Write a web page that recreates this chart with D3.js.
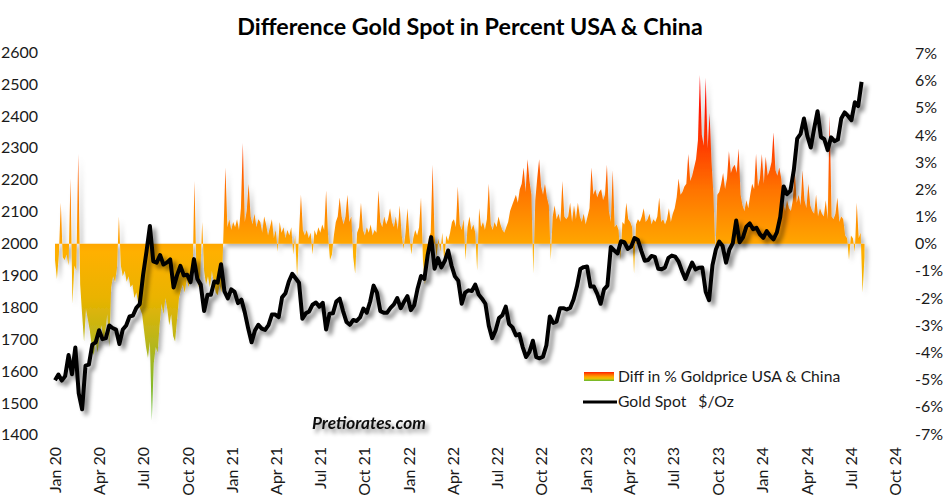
<!DOCTYPE html>
<html><head><meta charset="utf-8">
<script src="https://cdn.jsdelivr.net/npm/d3@7/dist/d3.min.js"></script>
<style>
html,body{margin:0;padding:0;background:#fff;}
svg{display:block;font-family:Lato,"Open Sans",sans-serif;}
</style></head><body>
<svg id="chart" width="945" height="497"></svg>
<script>
// ---------------- DATA ----------------
const chartTitle = "Difference Gold Spot in Percent USA & China";
const legendLabels = ["Diff in % Goldprice USA & China", "Gold Spot   $/Oz"];
const watermarkText = "Pretiorates.com";

const leftTicks = [2600,2500,2400,2300,2200,2100,2000,1900,1800,1700,1600,1500,1400];
const rightTicks = [7,6,5,4,3,2,1,0,-1,-2,-3,-4,-5,-6,-7];
const xTickLabels = ["Jan 20","Apr 20","Jul 20","Oct 20","Jan 21","Apr 21","Jul 21","Oct 21",
  "Jan 22","Apr 22","Jul 22","Oct 22","Jan 23","Apr 23","Jul 23","Oct 23","Jan 24","Apr 24","Jul 24","Oct 24"];
const firstTickDate = "2020-01-24";

// Gold spot $/oz, weekly (Fridays) starting 2020-01-24
const goldStart = "2020-01-24";
const gold2020 = [1571,1589,1570,1584,1650,1590,1674,1530,1480,1617,1620,1683,1690,1728,1700,1703,1743,1735,1730,1685,
  1730,1743,1771,1774,1798,1810,1902,1975,2055,1944,1940,1964,1934,1940,1950,1862,1900,1930,1900,1902,
  1879,1951,1889,1871,1788,1839,1839,1881,1877,1935];
const gold2021 = [1850,1828,1856,1848,1813,1824,1784,1734,1690,1727,1745,1733,1729,1744,1777,1777,1769,1831,1844,1881,
  1905,1891,1877,1764,1781,1787,1808,1815,1802,1814,1730,1780,1781,1818,1827,1788,1754,1745,1760,1757,
  1768,1796,1783,1818,1868,1846,1788,1783,1783,1798,1809,1829];
const gold2022 = [1797,1817,1835,1791,1807,1859,1898,1889,1966,2020,1921,1954,1925,1945,1978,1931,1897,1883,1811,1846,
  1853,1851,1871,1840,1827,1811,1742,1703,1727,1766,1775,1802,1747,1737,1712,1716,1675,1644,1660,1695,
  1644,1640,1645,1681,1771,1751,1755,1797,1797,1793,1798,1824];
const gold2023 = [1865,1920,1926,1928,1865,1865,1842,1811,1856,1868,1989,1978,1969,2007,2004,1983,1990,2017,2011,1977,
  1946,1948,1961,1958,1921,1919,1925,1955,1962,1959,1943,1914,1889,1915,1940,1919,1924,1925,1849,1822,
  1932,1981,2006,1992,1940,1981,2001,2072,2004,2019,2053,2063];
const gold2024 = [2045,2049,2029,2018,2039,2024,2013,2035,2083,2179,2155,2165,2230,2329,2344,2392,2337,2301,2360,2415,
  2334,2327,2293,2333,2321,2326,2392,2411,2400,2387,2443,2431,2507];

// Difference USA vs China gold price in %, one reading every 4 days starting 2020-01-24
const diffStart = "2020-01-24";
const diffStepDays = 4;
const diffValues = [
 -0.6,-1.3,-0.4,1.5,-0.5,-0.6,-0.4,-0.8,2.4,-2.2,
 -0.8,-1.0,3.3,-1.5,-2.6,-3.6,-2.4,-2.8,-3.2,-3.8,
 -4.1,-3.6,-4.0,-3.4,-3.0,-3.6,-3.2,-2.6,-3.8,-1.6,
 -1.2,-1.4,-0.9,1.0,-0.8,-1.2,-1.0,-1.4,-1.2,-1.6,
 -1.5,-2.0,-1.8,-2.2,-2.4,-2.6,-3.2,-3.8,-4.2,-3.6,
 -6.5,-4.4,-3.8,-4.0,-3.0,-2.2,-2.6,-2.0,-2.4,-3.0,
 -2.6,-3.4,-3.6,-2.8,-2.0,-1.7,-1.5,-1.8,-1.3,-1.6,
 -1.2,-1.4,2.3,-1.0,-1.6,-1.2,0.8,-1.0,-1.5,-1.2,
 -1.6,-1.0,-1.4,-1.8,-1.9,-1.5,-1.8,0.4,2.8,0.6,
 0.9,0.5,0.8,0.6,0.9,0.5,1.3,3.7,0.8,1.2,
 2.2,1.0,0.7,1.1,0.6,0.9,0.8,0.4,1.0,0.7,
 0.3,0.6,0.9,0.2,0.5,-0.3,0.8,0.4,0.6,0.2,
 0.5,0.3,0.6,-0.4,0.3,-1.2,0.4,1.8,0.5,0.3,
 0.5,0.2,0.4,-0.4,0.5,0.3,0.6,0.4,0.7,0.5,
 1.95,0.3,-0.6,-0.4,0.3,0.8,1.0,1.7,1.0,0.7,
 1.0,1.8,0.8,1.0,-0.5,-1.1,0.4,0.6,1.5,0.5,
 0.3,0.6,0.4,0.7,0.3,0.5,0.4,1.95,0.8,0.6,
 1.0,0.7,0.9,1.3,0.8,0.6,1.0,0.5,1.4,0.3,
 -0.2,0.4,1.3,0.3,-0.4,0.2,0.5,0.3,0.6,1.7,
 -0.6,-1.5,-0.9,0.2,0.4,2.9,0.3,-0.5,0.2,-0.3,
 0.4,-0.7,0.3,0.1,0.4,0.8,0.9,0.6,2.1,0.7,
 0.5,0.9,-0.6,0.6,1.0,0.5,0.7,0.4,-1.0,1.3,
 0.6,0.8,0.5,0.9,2.2,0.7,0.5,0.8,0.6,1.0,
 0.7,0.5,0.4,0.6,0.8,1.2,1.4,1.6,1.8,1.5,
 2.0,2.2,2.8,1.9,3.1,2.3,1.8,-1.1,1.6,2.4,
 3.1,2.1,1.8,2.2,1.7,1.4,-0.6,1.0,1.4,0.9,
 1.1,0.8,2.3,1.0,0.9,1.0,1.5,0.8,1.4,0.9,
 1.5,1.0,0.8,1.1,0.7,1.0,1.3,2.8,1.8,2.0,
 1.7,1.9,2.0,1.6,1.8,2.9,1.2,0.8,2.7,0.6,
 0.7,0.5,-0.6,0.8,0.7,1.5,0.9,0.8,0.6,-1.1,
 0.7,0.9,0.8,1.0,1.3,0.8,0.9,1.1,0.7,0.9,
 0.8,1.0,1.7,0.8,0.9,0.7,0.9,1.3,0.8,1.1,
 1.3,1.7,2.4,1.8,1.9,2.1,2.2,3.3,2.3,2.5,
 2.8,3.1,3.8,6.2,4.0,3.6,6.1,3.5,4.8,3.0,
 1.8,-0.4,1.8,1.9,2.2,2.6,2.0,2.4,3.4,2.6,
 2.8,2.9,2.6,3.5,1.8,1.4,1.2,1.6,1.3,1.8,
 2.2,2.0,3.3,2.1,2.4,3.3,2.2,3.2,2.5,2.7,
 3.0,4.1,2.7,2.5,2.8,2.4,1.5,1.2,1.6,1.3,
 1.2,1.6,2.7,1.5,1.8,1.4,2.7,1.6,1.3,2.2,
 1.4,1.2,1.1,1.8,1.0,1.3,1.1,1.0,1.6,0.9,
 4.7,1.0,0.9,1.1,1.7,0.8,1.0,0.9,0.3,0.2,
 -0.6,0.3,0.2,-0.3,1.5,0.2,0.4,-1.8,-0.5
];

// ---------------- CHART ----------------
const parse = d3.utcParse("%Y-%m-%d");
const goldValues = [].concat(gold2020, gold2021, gold2022, gold2023, gold2024);
const gold = goldValues.map((v, i) => ({date: d3.utcDay.offset(parse(goldStart), 7 * i), v}));
const diff = diffValues.map((v, i) => ({date: d3.utcDay.offset(parse(diffStart), diffStepDays * i), v}));
const tickDates = xTickLabels.map((l, i) => d3.utcMonth.offset(parse(firstTickDate), 3 * i));

const svg = d3.select("#chart");
const textColor = "#1a1a1a";

const x = d3.scaleUtc().domain([tickDates[0], tickDates[tickDates.length - 1]]).range([55, 895]);
const yL = d3.scaleLinear().domain([1400, 2600]).range([434.8, 52.2]);
const yR = d3.scaleLinear().domain([-7, 7]).range([434, 53.3]);

const defs = svg.append("defs");
// vertical colour gradient tied to the right axis
const grad = defs.append("linearGradient").attr("id", "diffGrad")
  .attr("gradientUnits", "userSpaceOnUse").attr("x1", 0).attr("x2", 0)
  .attr("y1", yR(7)).attr("y2", yR(-7));
const stops = [[7,"#ff0000"],[5,"#ff1400"],[3.5,"#ff4000"],[2,"#ff7300"],[0.8,"#ff9200"],[0,"#ffa600"],
  [-0.3,"#ffb000"],[-2,"#e9b300"],[-3.5,"#bcb61a"],[-5,"#8cb92a"],[-7,"#52b832"]];
stops.forEach(([p, c]) => grad.append("stop").attr("offset", (7 - p) / 14).attr("stop-color", c));

const legGrad = defs.append("linearGradient").attr("id", "legGrad").attr("x1", 0).attr("x2", 0).attr("y1", 0).attr("y2", 1);
[[0,"#ff2000"],[0.3,"#ff7000"],[0.55,"#ffa800"],[0.75,"#e8c000"],[1,"#5cb832"]]
  .forEach(([o, c]) => legGrad.append("stop").attr("offset", o).attr("stop-color", c));

function shadow(id, dx, dy, sd, op) {
  const f = defs.append("filter").attr("id", id).attr("x", "-10%").attr("y", "-10%").attr("width", "130%").attr("height", "130%");
  f.append("feDropShadow").attr("dx", dx).attr("dy", dy).attr("stdDeviation", sd)
    .attr("flood-color", "#000").attr("flood-opacity", op);
}
shadow("shArea", 3, 3, 2, 0.3);
shadow("shLine", 4, 4, 2.2, 0.45);
shadow("shText", 3, 4, 2, 0.45);

// title
svg.append("text").attr("x", 470).attr("y", 35).attr("text-anchor", "middle")
  .attr("font-weight", "bold").attr("font-size", 23.3).attr("fill", "#000").text(chartTitle);

// diff area
const area = d3.area().x(d => x(d.date)).y0(yR(0)).y1(d => yR(d.v));
svg.append("path").datum(diff).attr("d", area).attr("fill", "url(#diffGrad)").attr("filter", "url(#shArea)");

// gold line
const line = d3.line().x(d => x(d.date)).y(d => yL(d.v));
svg.append("path").datum(gold).attr("d", line).attr("fill", "none").attr("stroke", "#000")
  .attr("stroke-width", 4).attr("stroke-linejoin", "round").attr("filter", "url(#shLine)");

// axes
const fs = 16;
const gL = svg.append("g").attr("transform", "translate(38,0)")
  .call(d3.axisLeft(yL).tickValues(leftTicks).tickSize(0).tickPadding(0).tickFormat(d3.format("d")));
const gR = svg.append("g").attr("transform", "translate(915,0)")
  .call(d3.axisRight(yR).tickValues(rightTicks).tickSize(0).tickPadding(0).tickFormat(d => d + "%"));
const gX = svg.append("g").attr("transform", "translate(0,447)")
  .call(d3.axisBottom(x).tickValues(tickDates).tickSize(0).tickFormat((d, i) => xTickLabels[i]));
[gL, gR, gX].forEach(g => {
  g.select(".domain").remove();
  g.selectAll("text").attr("font-family", "Lato,'Open Sans',sans-serif").attr("font-size", fs).attr("fill", textColor);
});
gX.selectAll("text").attr("transform", "rotate(-90)").attr("text-anchor", "end")
  .attr("x", 0).attr("y", 0).attr("dy", "0.35em");

// legend
const leg = svg.append("g");
leg.append("rect").attr("x", 584).attr("y", 372).attr("width", 30).attr("height", 9).attr("fill", "url(#legGrad)");
leg.append("text").attr("x", 618).attr("y", 382).attr("font-size", 15.7).attr("fill", textColor).text(legendLabels[0]);
leg.append("line").attr("x1", 583).attr("x2", 617).attr("y1", 402).attr("y2", 402).attr("stroke", "#000").attr("stroke-width", 3);
leg.append("text").attr("x", 618).attr("y", 407).attr("font-size", 15.7).attr("fill", textColor)
  .style("white-space", "pre").text(legendLabels[1]);

// watermark
svg.append("text").attr("x", 312).attr("y", 429).attr("font-size", 17.2).attr("font-weight", "bold")
  .attr("font-style", "italic").attr("fill", "#111").attr("filter", "url(#shText)").text(watermarkText);
</script>
</body></html>
